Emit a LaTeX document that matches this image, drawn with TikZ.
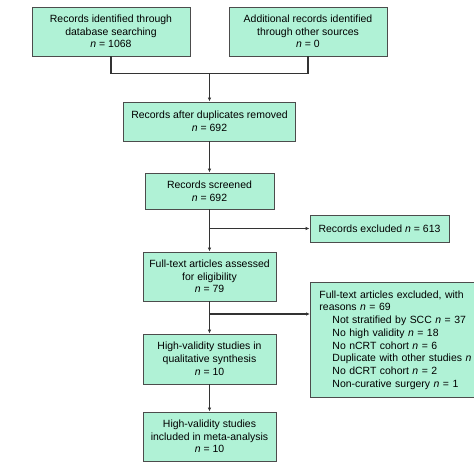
\documentclass[tikz,border=0pt]{standalone}
\usepackage{fontspec}
\setmainfont{Liberation Sans}
\usetikzlibrary{arrows.meta}

\begin{document}
\begin{tikzpicture}[x=1bp,y=-1bp,
  box/.style={draw=black!70,line width=0.9bp,fill={rgb,255:red,176;green,242;blue,214},
    align=center,inner sep=2bp,font=\fontsize{10.5}{12.8}\selectfont},
  arr/.style={draw=black!80,line width=1.2bp,-{Latex[length=4bp,width=3.5bp]}},
  lin/.style={draw=black!80,line width=1.2bp}]
\clip (0,0) rectangle (474,474);
\fill[white] (0,0) rectangle (474,474);
% identification
\node[box,minimum width=158bp,minimum height=49bp] (db) at (111,31.5)
  {Records identified through\\database searching\\\textit{n} = 1068};
\node[box,minimum width=158bp,minimum height=49bp] (other) at (308,31.5)
  {Additional records identified\\through other sources\\\textit{n} = 0};
\node[box,minimum width=172bp,minimum height=39bp] (dup) at (209.5,121.5)
  {Records after duplicates removed\\\textit{n} = 692};
% screening
\node[box,minimum width=129bp,minimum height=36bp] (screen) at (209.5,191)
  {Records screened\\\textit{n} = 692};
\node[box,minimum width=139bp,minimum height=27bp] (excl) at (379.5,228.5)
  {Records excluded \textit{n} = 613};
% eligibility
\node[box,minimum width=133bp,minimum height=49bp] (full) at (209.5,276.5)
  {Full-text articles assessed\\for eligibility\\\textit{n} = 79};
\node[box,anchor=north west,align=left,text width=182bp,minimum height=115bp,
  inner xsep=9bp] (reasons) at (310,282)
  {Full-text articles excluded, with\\reasons \textit{n} = 69\\
   \hspace*{13bp}Not stratified by SCC \textit{n} = 37\\
   \hspace*{13bp}No high validity \textit{n} = 18\\
   \hspace*{13bp}No nCRT cohort \textit{n} = 6\\
   \hspace*{13bp}Duplicate with other studies \textit{n}\\
   \hspace*{13bp}No dCRT cohort \textit{n} = 2\\
   \hspace*{13bp}Non-curative surgery \textit{n} = 1};
% included
\node[box,minimum width=133bp,minimum height=50bp] (quali) at (209.5,359)
  {High-validity studies in\\qualitative synthesis\\\textit{n} = 10};
\node[box,minimum width=133bp,minimum height=49bp] (meta) at (209.5,436.5)
  {High-validity studies\\included in meta-analysis\\\textit{n} = 10};
% connectors
\coordinate (join) at (209.5,73.5);
\coordinate (brk) at (209.5,314);
\draw[lin] (db.south) |- (join) -| (other.south);
\draw[arr] (join) -- (dup.north);
\draw[arr] (dup) -- (screen);
\draw[arr] (screen) -- (full);
\draw[arr] (screen.south |- excl.west) -- (excl.west);
\draw[arr] (full) -- (quali);
\draw[arr] (brk) -- (brk -| reasons.west);
\draw[arr] (quali) -- (meta);
\end{tikzpicture}
\end{document}
